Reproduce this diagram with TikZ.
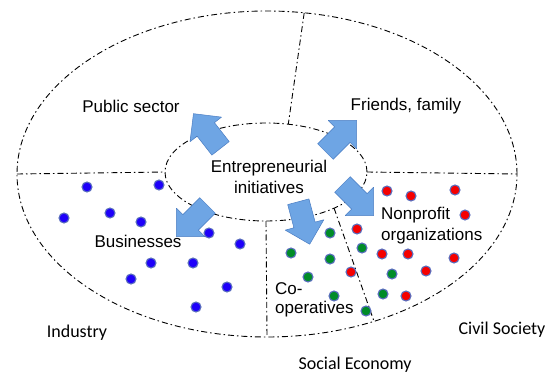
\documentclass[tikz,border=0pt]{standalone}
\usepackage{fontspec}
\setmainfont{Liberation Sans}
\newfontfamily\calibrifont{Carlito}
\usetikzlibrary{shapes.geometric}
\definecolor{arrowblue}{RGB}{110,165,228}
\definecolor{arrowedge}{RGB}{75,125,195}
\definecolor{dotblue}{RGB}{30,0,250}
\definecolor{dotred}{RGB}{245,0,0}
\definecolor{dotgreen}{RGB}{0,140,40}
\definecolor{dotrim}{RGB}{90,110,190}
\tikzset{
  dashdot/.style={line width=0.9pt, dash pattern=on 6pt off 3pt on 1.5pt off 3pt},
  zone/.style={ellipse, draw, dashdot, inner sep=0pt, outer sep=0pt},
  blockarrow/.style={fill=arrowblue, draw=arrowedge, line width=0.5pt, line join=round},
  dot/.style={circle, inner sep=0pt, minimum size=10pt, draw=dotrim, line width=1.1pt},
  sectortext/.style={font=\fontsize{17}{21}\selectfont, inner sep=0pt},
  regiontext/.style={font=\calibrifont\fontsize{18}{21}\selectfont, inner sep=0pt}
}

\begin{document}
\begin{tikzpicture}[x=1pt, y=1pt]
        \useasboundingbox (0,0) rectangle (555,373);
        % the two ellipses
        \node[zone, minimum width=500pt, minimum height=326pt] (outer) at (267,199) {};
        \node[zone, minimum width=202pt, minimum height=98pt] (inner) at (266,201) {};
        % sector borders
        \draw[dashdot] (outer.west) -- (inner.west);
        \draw[dashdot] (outer.77) -- (inner.65);
        \draw[dashdot] (inner.east) -- (outer.east);
        \draw[dashdot] (inner.south) -- (outer.south);
        \draw[dashdot] (inner.-28) -- (outer.-54);
        % arrows out of the centre
        \foreach \ax/\ay/\ang in {207/242/128, 341/237/45, 192/152/-135, 304/150/-75, 358/173/-45} {
          \draw[blockarrow, shift={(\ax,\ay)}, rotate=\ang]
            (-22,-11) -- (2,-11) -- (2,-20) -- (22,0) -- (2,20) -- (2,11) -- (-22,11) -- cycle;
        }
        % members
        \foreach \x/\y [count=\i] in {87/186, 159/188, 64/155, 110/160, 141/151, 209/140,
            240/129, 151/110, 193/110, 131/94, 227/86, 196/66} {
          \node[dot, fill=dotblue] (blue\i) at (\x,\y) {};
        }
        \foreach \x/\y [count=\i] in {387/182, 411/177, 455/183, 465/158, 357/144, 382/119,
            408/119, 454/115, 351/101, 426/102, 406/77} {
          \node[dot, fill=dotred] (red\i) at (\x,\y) {};
        }
        \foreach \x/\y [count=\i] in {330/140, 291/120, 362/125, 330/114, 308/96, 392/99,
            334/77, 383/79, 366/62} {
          \node[dot, fill=dotgreen] (green\i) at (\x,\y) {};
        }
        % texts
        \node[sectortext] (public) at (131,267) {Public sector};
        \node[sectortext] (friends) at (406,267) {Friends, family};
        \node[sectortext, align=center] (entre) at (269,196) {Entrepreneurial\\initiatives};
        \node[sectortext] (business) at (138,132) {Businesses};
        \node[sectortext, align=left, anchor=west] (nonprofit) at (381,147) {Nonprofit\\organizations};
        \node[sectortext, align=left, anchor=west, font=\fontsize{17}{19}\selectfont] (coop) at (275,73) {Co-\\operatives};
        \node[regiontext] (industry) at (77,40) {Industry};
        \node[regiontext] (civil) at (502,43) {Civil Society};
        \node[regiontext] (social) at (355,8) {Social Economy};
\end{tikzpicture}
\end{document}
